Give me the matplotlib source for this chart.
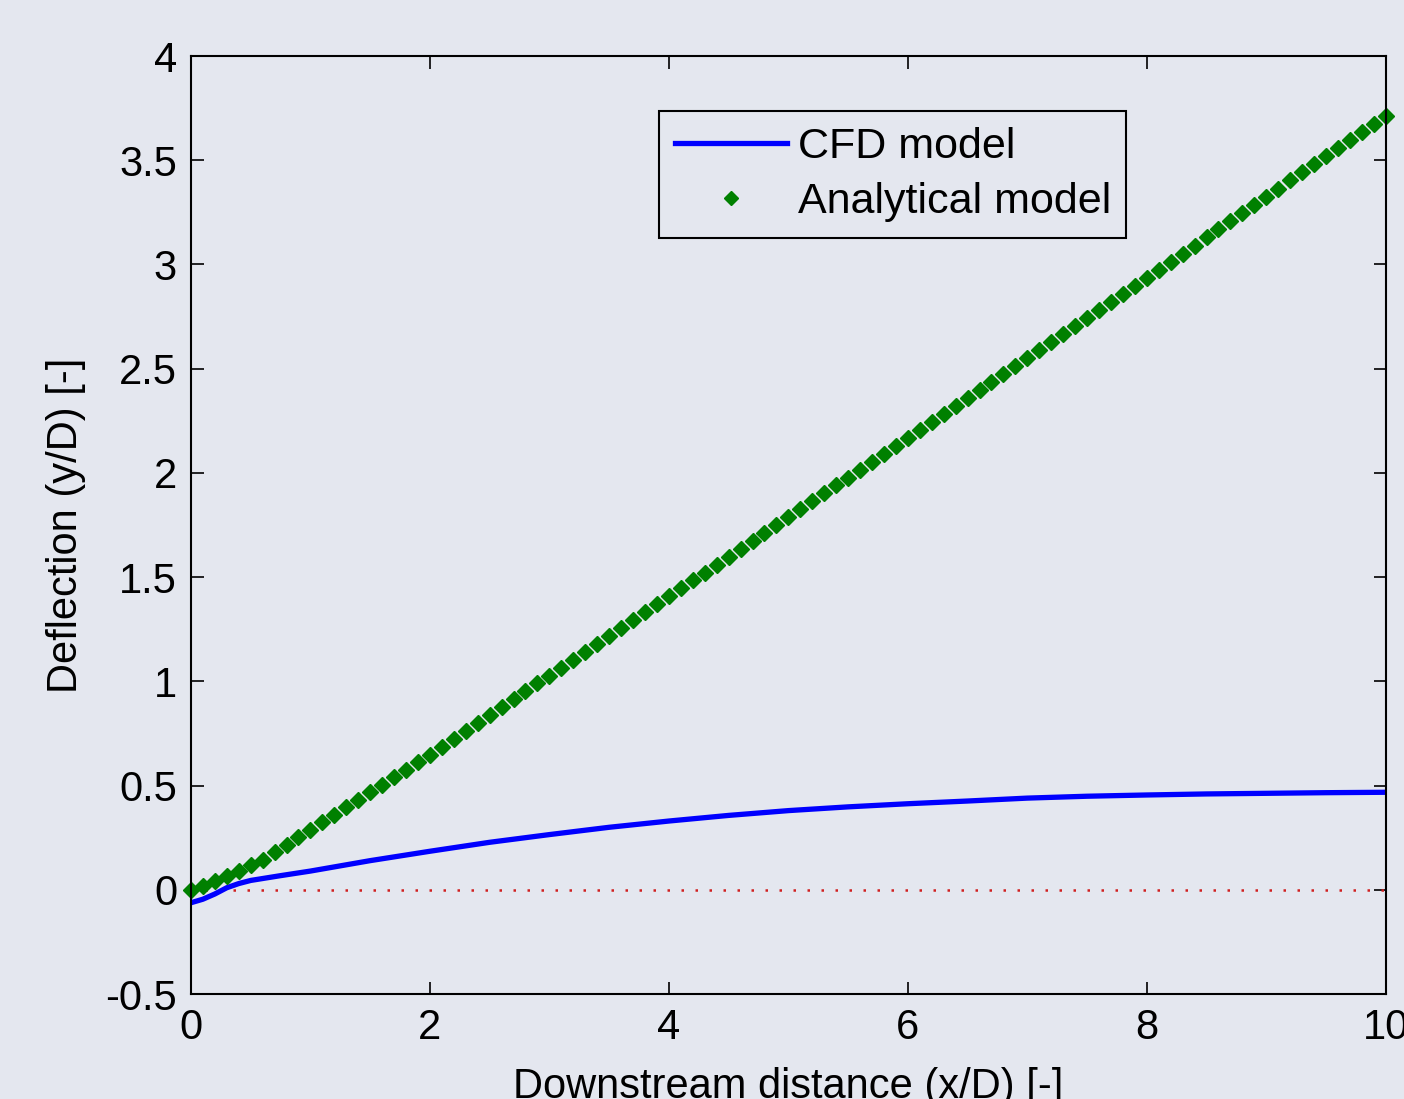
import matplotlib
matplotlib.use('Agg')
import matplotlib.pyplot as plt
import numpy as np

# analytical model, one value every 0.1 x/D
x_analytical = np.round(np.arange(0, 10.01, 0.1), 1)
y_analytical = [
    0.000, 0.019, 0.040, 0.064, 0.090, 0.117, 0.144, 0.180, 0.216, 0.252,
    0.288, 0.324, 0.360, 0.396, 0.432, 0.468, 0.504, 0.540, 0.576, 0.612,
    0.648, 0.686, 0.724, 0.762, 0.800, 0.838, 0.876, 0.914, 0.952, 0.990,
    1.028, 1.066, 1.104, 1.142, 1.180, 1.218, 1.256, 1.294, 1.332, 1.370,
    1.408, 1.446, 1.484, 1.522, 1.560, 1.598, 1.636, 1.674, 1.712, 1.750,
    1.788, 1.826, 1.864, 1.902, 1.940, 1.978, 2.016, 2.054, 2.092, 2.130,
    2.168, 2.206, 2.245, 2.283, 2.321, 2.360, 2.398, 2.436, 2.474, 2.513,
    2.551, 2.589, 2.628, 2.666, 2.704, 2.743, 2.781, 2.819, 2.857, 2.896,
    2.935, 2.974, 3.013, 3.052, 3.091, 3.130, 3.169, 3.208, 3.247, 3.286,
    3.325, 3.364, 3.403, 3.442, 3.481, 3.520, 3.559, 3.598, 3.637, 3.676,
    3.714,
]

# CFD model
x_cfd = [0, 0.1, 0.2, 0.3, 0.4, 0.5, 0.75, 1, 1.5, 2, 2.5, 3, 3.5, 4, 4.5,
         5, 5.5, 6, 6.5, 7, 7.5, 8, 8.5, 9, 9.5, 10]
y_cfd = [-0.062, -0.045, -0.020, 0.010, 0.030, 0.045, 0.068, 0.090, 0.140,
         0.185, 0.228, 0.265, 0.300, 0.330, 0.357, 0.380, 0.398, 0.413,
         0.426, 0.440, 0.449, 0.455, 0.460, 0.463, 0.466, 0.468]

x_ticks = [0, 2, 4, 6, 8, 10]
y_ticks = [-0.5, 0, 0.5, 1, 1.5, 2, 2.5, 3, 3.5, 4]
y_tick_labels = ['-0.5', '0', '0.5', '1', '1.5', '2', '2.5', '3', '3.5', '4']

bg = '#e4e7ef'
plt.rcParams['font.family'] = ['Liberation Sans', 'DejaVu Sans']

fig = plt.figure(figsize=(14.04, 10.99), dpi=100, facecolor=bg)
ax = fig.add_axes([0.136, 0.0955, 0.851, 0.8535], facecolor=bg)

ax.plot([0, 10], [0, 0], color='#d02020', lw=1.8, dashes=(1, 4.6))
ax.plot(x_cfd, y_cfd, '-', color='blue', lw=3.8, label='CFD model')
ax.plot(x_analytical, y_analytical, 'D', color='green', ms=8.5,
        ls='none', label='Analytical model', clip_on=False)

ax.set_xlim(0, 10)
ax.set_ylim(-0.5, 4)
ax.set_xticks(x_ticks)
ax.set_yticks(y_ticks)
ax.set_yticklabels(y_tick_labels)
ax.tick_params(direction='in', length=9, width=1.2, labelsize=30,
               top=True, right=True, pad=10, colors='black')
for s in ax.spines.values():
    s.set_linewidth(1.5)
    s.set_color('black')

ax.set_xlabel('Downstream distance (x/D) [-]', fontsize=30, labelpad=14)
ax.set_ylabel('Deflection (y/D) [-]', fontsize=30, labelpad=14)

leg = ax.legend(loc='upper left', bbox_to_anchor=(0.392, 0.941),
                borderaxespad=0, fontsize=31, handlelength=2.6,
                handletextpad=0.25, numpoints=1, fancybox=False,
                framealpha=1, facecolor=bg, edgecolor='black',
                labelspacing=0.36, borderpad=0.36)
leg.get_frame().set_linewidth(1.5)
leg.legend_handles[1].set_markersize(7.5)

fig.savefig('out.png', dpi=100, facecolor=bg)
